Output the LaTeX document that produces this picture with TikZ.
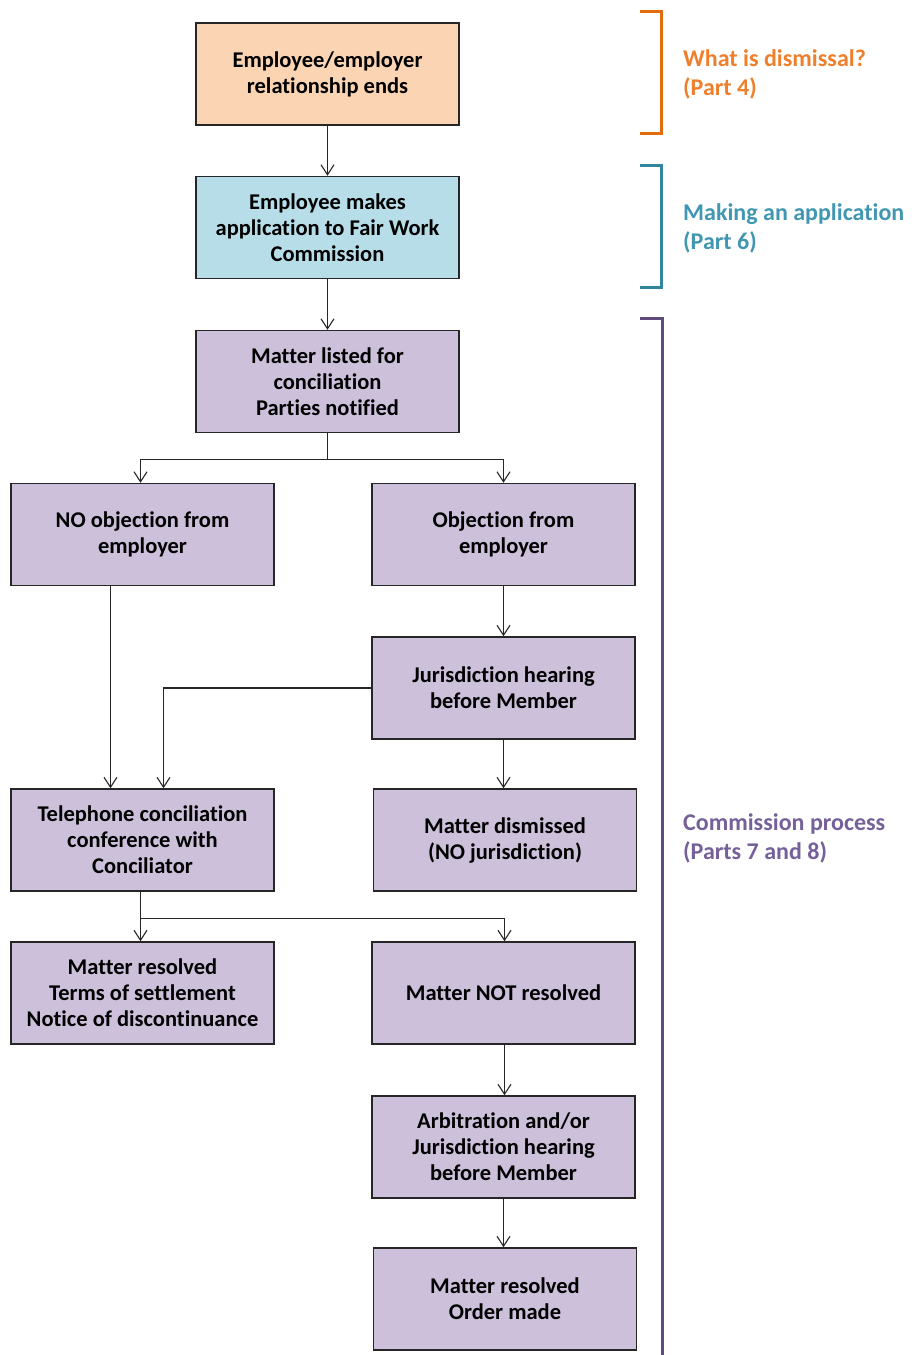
\documentclass[tikz,border=0pt]{standalone}
\usepackage{fontspec}
\setmainfont{Carlito}[Ligatures=NoCommon]
\usetikzlibrary{arrows.meta}
\definecolor{peach}{HTML}{FBD4B4}
\definecolor{lblue}{HTML}{B7DEE8}
\definecolor{lilac}{HTML}{CCC0DA}
\definecolor{orng}{HTML}{E46C0A}
\definecolor{orngtxt}{HTML}{EE7F2D}
\definecolor{tealb}{HTML}{31859C}
\definecolor{tealtxt}{HTML}{4197B2}
\definecolor{purp}{HTML}{604A7B}
\definecolor{purptxt}{HTML}{75609A}
\definecolor{edge}{HTML}{262626}
\tikzset{
  box/.style={draw=edge, line width=1.5pt, minimum width=263pt, minimum height=102pt,
    align=center, inner sep=2pt, font=\fontsize{22.5}{26}\selectfont\bfseries},
  arr/.style={draw=edge, line width=1.1pt, -{Straight Barb[length=10pt,width=13pt,line width=1.1pt]}},
  plain/.style={draw=edge, line width=1.1pt},
  brk/.style={line width=3pt},
  side/.style={anchor=west, align=left, inner sep=0pt, font=\fontsize{24}{29}\selectfont\bfseries}
}
\begin{document}
\begin{tikzpicture}[x=1pt,y=-1pt]
\useasboundingbox (0,0) rectangle (911,1355);
% boxes
\node[box, fill=peach] (b1) at (327.5,74) {Employee/employer\\relationship ends};
\node[box, fill=lblue] (b2) at (327.5,227.5) {Employee makes\\application to Fair Work\\Commission};
\node[box, fill=lilac] (b3) at (327.5,381.5) {Matter listed for\\conciliation\\Parties notified};
\node[box, fill=lilac] (b4) at (142.5,534.5) {NO objection from\\employer};
\node[box, fill=lilac] (b5) at (503.5,534.5) {Objection from\\employer};
\node[box, fill=lilac] (b6) at (503.5,688) {Jurisdiction hearing\\before Member};
\node[box, fill=lilac] (b7) at (142.5,840) {Telephone conciliation\\conference with\\Conciliator};
\node[box, fill=lilac] (b8) at (505,840) {Matter dismissed\\(NO jurisdiction)};
\node[box, fill=lilac] (b9) at (142.5,993) {Matter resolved\\Terms of settlement\\Notice of discontinuance};
\node[box, fill=lilac] (b10) at (503.5,993) {Matter NOT resolved};
\node[box, fill=lilac] (b11) at (503.5,1147) {Arbitration and/or\\Jurisdiction hearing\\before Member};
\node[box, fill=lilac] (b12) at (505,1299) {Matter resolved\\Order made};
% connectors
\draw[arr] (b1) -- (b2);
\draw[arr] (b2) -- (b3);
\draw[plain] (b3.south) -- ++(0,26) coordinate (j1);
\draw[arr] (j1) -| ([xshift=-2pt]b4.north);
\draw[arr] (j1) -| (b5.north);
\draw[arr] ([xshift=-32pt]b4.south) -- ([xshift=-32pt]b7.north);
\draw[arr] (b5) -- (b6);
\draw[arr] (b6.west) -| ([xshift=21pt]b7.north);
\draw[arr] (b6.south) -- (b6.south |- b8.north);
\draw[plain] ([xshift=-2pt]b7.south) -- ++(0,27) coordinate (j2);
\draw[arr] (j2) -| ([xshift=-2pt]b9.north);
\draw[arr] (j2) -| ([xshift=1pt]b10.north);
\draw[arr] ([xshift=1pt]b10.south) -- ([xshift=1pt]b10.south |- b11.north);
\draw[arr] (b11.south) -- (b11.south |- b12.north);
% brackets
\draw[brk, orng] (640,11.5) -- (661,11.5) -- (661,133.5) -- (640,133.5);
\draw[brk, tealb] (640,165.5) -- (661,165.5) -- (661,287.5) -- (640,287.5);
\draw[brk, purp] (640,318.5) -- (662,318.5) -- (662,1356);
% side labels
\node[side, text=orngtxt] (l1) at (683,74) {What is dismissal?\\(Part 4)};
\node[side, text=tealtxt] (l2) at (683,228) {Making an application\\(Part 6)};
\node[side, text=purptxt] (l3) at (683,838) {Commission process\\(Parts 7 and 8)};
\end{tikzpicture}
\end{document}
